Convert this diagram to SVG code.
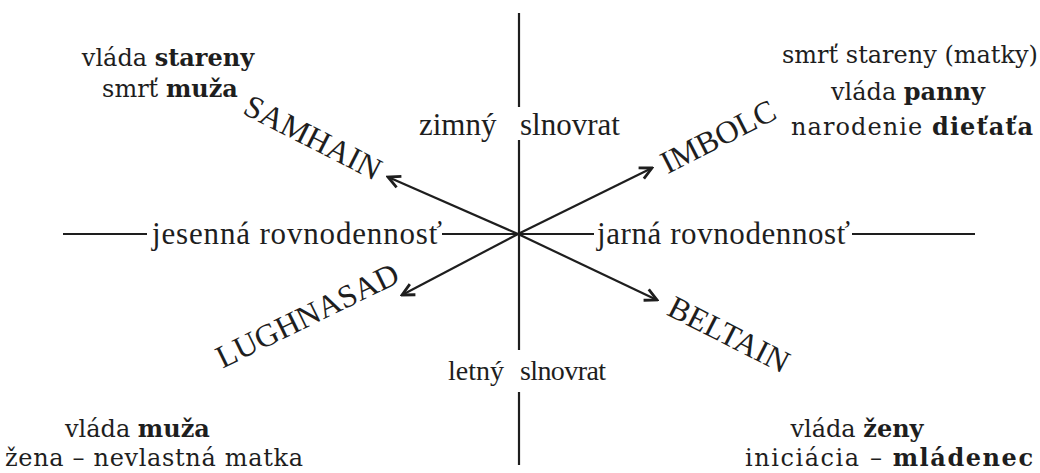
<svg xmlns="http://www.w3.org/2000/svg" width="1040" height="473" viewBox="0 0 1040 473">
<style>
.ln{stroke:#1e1e1e;stroke-width:2.2;fill:none}
.ax{font-family:"Liberation Serif","Times New Roman",serif;font-size:31px;fill:#1e1e1e}
.ax2{font-family:"Liberation Serif","Times New Roman",serif;font-size:28px;fill:#1e1e1e}
.fe{font-family:"Liberation Serif","Times New Roman",serif;font-size:32px;fill:#1e1e1e}
.co{font-family:"DejaVu Serif","Liberation Serif",serif;font-size:24px;fill:#1e1e1e}
.b{font-weight:bold}
</style>
<defs>
<marker id="ah" markerUnits="userSpaceOnUse" viewBox="-14 -8 16 16" refX="0" refY="0" markerWidth="16" markerHeight="16" orient="auto">
<path d="M-12,-6 L0,0 L-12,6" fill="none" stroke="#1e1e1e" stroke-width="2.8" stroke-linejoin="miter"/>
</marker>
</defs>
<rect width="1040" height="473" fill="#ffffff"/>
<g id="connectors">
<line class="ln" x1="519" y1="13" x2="519" y2="107"/>
<line class="ln" x1="519" y1="140" x2="519" y2="350"/>
<line class="ln" x1="519" y1="392" x2="519" y2="465"/>
<line class="ln" x1="63" y1="234" x2="147" y2="234"/>
<line class="ln" x1="442" y1="234" x2="594" y2="234"/>
<line class="ln" x1="852" y1="234" x2="975" y2="234"/>
<line class="ln" x1="518" y1="234" x2="388" y2="177" marker-end="url(#ah)"/>
<line class="ln" x1="518" y1="234" x2="652" y2="168" marker-end="url(#ah)"/>
<line class="ln" x1="518" y1="234" x2="402" y2="295" marker-end="url(#ah)"/>
<line class="ln" x1="518" y1="234" x2="657" y2="300" marker-end="url(#ah)"/>
</g>
<g id="axis-labels">
<text class="ax" x="419" y="135">zimný</text>
<text class="ax" x="520" y="135">slnovrat</text>
<text class="ax2" x="448" y="380">letný</text>
<text class="ax2" x="520" y="380" textLength="86">slnovrat</text>
<text class="ax" x="152" y="244" textLength="290">jesenná  rovnodennosť</text>
<text class="ax" x="597" y="244" textLength="253">jarná rovnodennosť</text>
</g>
<g id="samhain"><text class="fe" text-anchor="middle" transform="translate(308,147) rotate(27)">SAMHAIN</text></g>
<g id="imbolc"><text class="fe" text-anchor="middle" transform="translate(723,146) rotate(-27)">IMBOLC</text></g>
<g id="lughnasad"><text class="fe" text-anchor="middle" transform="translate(312,325) rotate(-26)">LUGHNASAD</text></g>
<g id="beltain"><text class="fe" text-anchor="middle" transform="translate(724,344) rotate(27)">BELTAIN</text></g>
<g id="top-left">
<text class="co" x="168" y="66" text-anchor="middle">vláda <tspan class="b">stareny</tspan></text>
<text class="co" x="170" y="97" text-anchor="middle">smrť <tspan class="b">muža</tspan></text>
</g>
<g id="top-right">
<text class="co" x="910" y="63" text-anchor="middle">smrť stareny (matky)</text>
<text class="co" x="908" y="100" text-anchor="middle">vláda <tspan class="b">panny</tspan></text>
<text class="co" x="912" y="135" text-anchor="middle" textLength="242">narodenie <tspan class="b">dieťaťa</tspan></text>
</g>
<g id="bottom-left">
<text class="co" x="65" y="437">vláda <tspan class="b">muža</tspan></text>
<text class="co" x="5" y="466" textLength="298">žena – nevlastná matka</text>
</g>
<g id="bottom-right">
<text class="co" x="857" y="437" text-anchor="middle">vláda <tspan class="b">ženy</tspan></text>
<text class="co" x="745" y="466" textLength="288">iniciácia – <tspan class="b">mládenec</tspan></text>
</g>
</svg>
